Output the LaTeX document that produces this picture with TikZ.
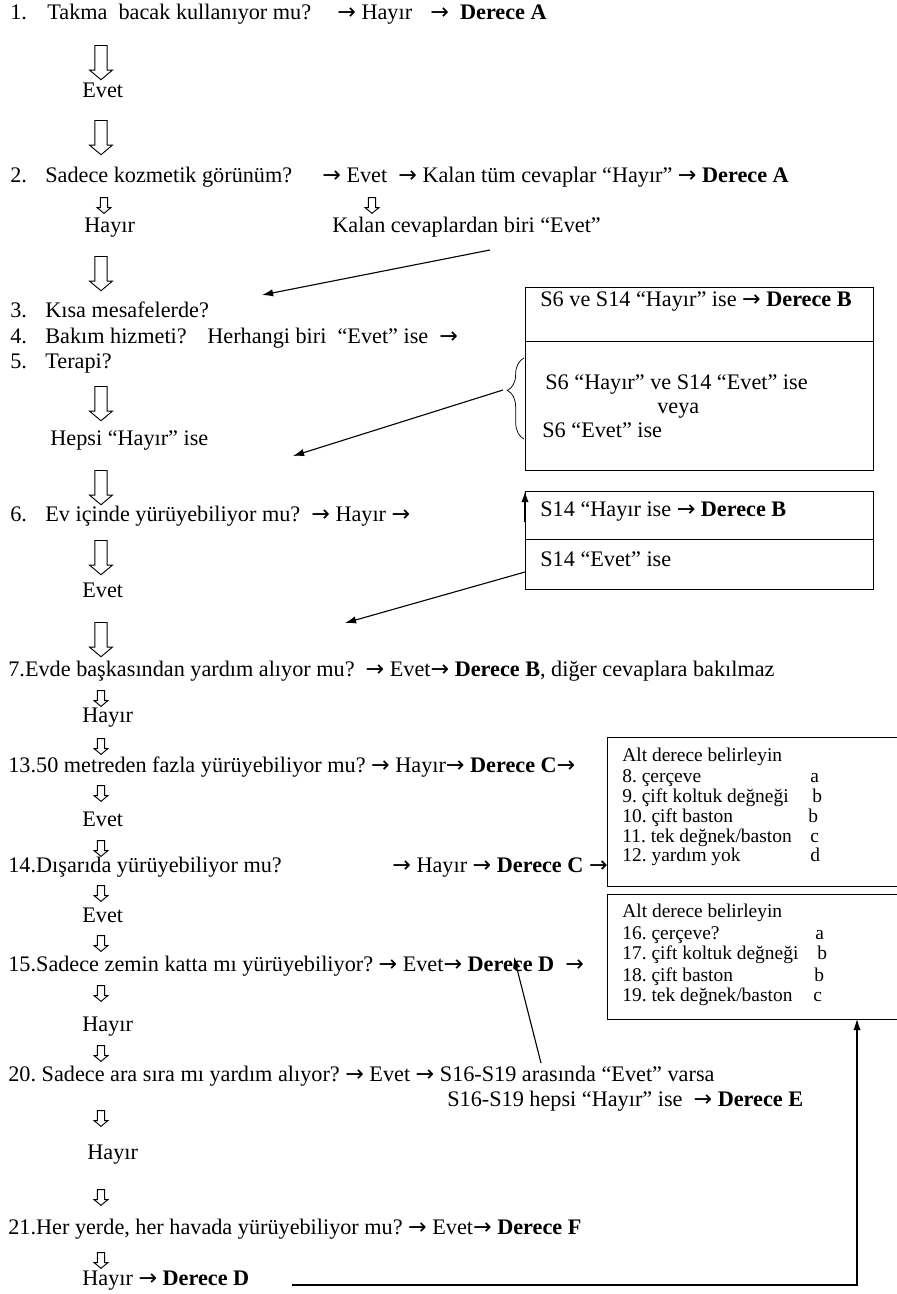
\documentclass[tikz,border=0pt]{standalone}
\usepackage{fontspec}
\setmainfont{Liberation Serif}
\newfontfamily\arrowfont{DejaVu Sans}
\newcommand{\toarrow}{{\arrowfont →}}
\usetikzlibrary{arrows.meta,shapes.arrows,decorations.pathreplacing}

\begin{document}
\frenchspacing
\begin{tikzpicture}[x=0.54pt,y=-0.54pt]
            \tikzstyle{every node}=[font=\fontsize{12}{14}\selectfont, inner sep=0pt]
            \tikzstyle{txt}=[anchor=mid west]
            \tikzstyle{boxtxt}=[anchor=mid west, font=\fontsize{10.5}{12}\selectfont]
            \tikzstyle{bigdown}=[single arrow, draw, shape border rotate=270, inner sep=3.1pt, single arrow head extend=2.8pt, single arrow tip angle=100, minimum height=18.5pt, line width=0.5pt]
            \tikzstyle{smalldown}=[single arrow, draw, shape border rotate=270, inner sep=1.7pt, single arrow head extend=1.8pt, single arrow tip angle=100, minimum height=8.5pt, line width=0.5pt]
            \tikzstyle{pointer}=[-{Latex[length=6pt,width=4pt]}, line width=0.6pt]

            \useasboundingbox (0,0) rectangle (896,1294);

            \node[txt] (num1) at (10,15) {1.};
            \node[txt] (q1) at (47,15) {Takma\ \ bacak kullanıyor mu?};
            \node[txt] (r1) at (337,15) {\toarrow\ Hayır};
            \node[txt] (dA1) at (430,15) {\toarrow\ \ \textbf{Derece A}};
            \node[bigdown] (d1) at (101,60) {};
            \node[txt] (evet1) at (82,93) {Evet};
            \node[bigdown] (d2) at (101,135) {};

            \node[txt] (num2) at (10,178) {2.};
            \node[txt] (q2) at (45,178) {Sadece kozmetik görünüm?};
            \node[txt] (r2) at (322,178) {\toarrow\ Evet\ \ \toarrow\ Kalan tüm cevaplar “Hayır” \toarrow\ \textbf{Derece A}};
            \node[smalldown] (d3) at (104,204) {};
            \node[txt] (hayir2) at (84,228) {Hayır};
            \node[smalldown] (d4) at (372,204) {};
            \node[txt] (kalan) at (332,228) {Kalan cevaplardan biri “Evet”};
            \node[bigdown] (d5) at (101,271) {};

            \coordinate (kalanfoot) at (490,250);
            \coordinate (toq3) at (262,295);
            \draw[pointer] (kalanfoot) -- (toq3);

            \node[txt] (num3) at (10,313) {3.};
            \node[txt] (q3) at (45,313) {Kısa mesafelerde?};
            \node[txt] (num4) at (10,339) {4.};
            \node[txt] (q4) at (45,339) {Bakım hizmeti?};
            \node[txt] (r4) at (207,339) {Herhangi biri\ \ “Evet” ise\ \ \toarrow};
            \node[txt] (num5) at (10,364) {5.};
            \node[txt] (q5) at (45,364) {Terapi?};
            \node[bigdown] (d6) at (101,401) {};
            \node[txt] (hepsi) at (50,441) {Hepsi “Hayır” ise};
            \node[bigdown] (d7) at (101,485) {};

            \node[txt] (num6) at (10,517) {6.};
            \node[txt] (q6) at (45,517) {Ev içinde yürüyebiliyor mu?\ \ \toarrow\ Hayır \toarrow};
            \node[bigdown] (d8) at (101,555) {};
            \node[txt] (evet6) at (82,593) {Evet};
            \node[bigdown] (d9) at (101,637) {};

            \draw (525,287) rectangle (873,470);
            \draw (525,341) -- (873,341);
            \node[txt] (s6s14) at (540,302) {S6 ve S14 “Hayır” ise \toarrow\ \textbf{Derece B}};
            \node[txt] (s6h) at (545,385) {S6 “Hayır” ve S14 “Evet” ise};
            \node[txt] (veya) at (657,409) {veya};
            \node[txt] (s6e) at (542,433) {S6 “Evet” ise};
            \draw[decorate, decoration={brace, amplitude=9pt, aspect=0.6}] (524,439) -- (524,358);
            \coordinate (bracetip) at (503,390);
            \coordinate (tohepsi) at (293,456);
            \draw[pointer] (bracetip) -- (tohepsi);

            \draw (525,491) rectangle (873,589);
            \draw (525,539) -- (873,539);
            \node[txt] (s14h) at (540,512) {S14 “Hayır ise \toarrow\ \textbf{Derece B}};
            \node[txt] (s14e) at (540,562) {S14 “Evet” ise};
            \coordinate (edgelow) at (525,522);
            \coordinate (edgetop) at (525,491);
            \draw[pointer, line width=1pt] (edgelow) -- (edgetop);
            \coordinate (s14foot) at (525,572);
            \coordinate (toevet6) at (345,623);
            \draw[pointer] (s14foot) -- (toevet6);

            \node[txt] (q7) at (8,672) {7.Evde başkasından yardım alıyor mu?\ \ \toarrow\ Evet\toarrow\ \textbf{Derece B}, diğer cevaplara bakılmaz};
            \node[smalldown] (d10) at (101,697) {};
            \node[txt] (hayir7) at (82,718) {Hayır};
            \node[smalldown] (d11) at (101,745) {};
            \node[txt] (q13) at (8,768) {13.50 metreden fazla yürüyebiliyor mu? \toarrow\ Hayır\toarrow\ \textbf{Derece C}\toarrow};
            \node[smalldown] (d12) at (101,792) {};
            \node[txt] (evet13) at (82,822) {Evet};
            \node[smalldown] (d13) at (101,847) {};
            \node[txt] (q14) at (8,868) {14.Dışarıda yürüyebiliyor mu?};
            \node[txt] (r14) at (392,868) {\toarrow\ Hayır \toarrow\ \textbf{Derece C} \toarrow};
            \node[smalldown] (d14) at (101,892) {};
            \node[txt] (evet14) at (82,918) {Evet};
            \node[smalldown] (d15) at (101,942) {};
            \node[txt] (q15) at (8,967) {15.Sadece zemin katta mı yürüyebiliyor? \toarrow\ Evet\toarrow\ \textbf{Derece D}\ \ \toarrow};
            \node[smalldown] (d16) at (101,992) {};
            \node[txt] (hayir15) at (82,1027) {Hayır};
            \node[smalldown] (d17) at (101,1052) {};
            \node[txt] (q20) at (8,1077) {20. Sadece ara sıra mı yardım alıyor? \toarrow\ Evet \toarrow\ S16-S19 arasında “Evet” varsa};
            \node[txt] (r20) at (447,1102) {S16-S19 hepsi “Hayır” ise\ \ \toarrow\ \textbf{Derece E}};
            \node[smalldown] (d18) at (101,1117) {};
            \node[txt] (hayir20) at (87,1155) {Hayır};
            \node[smalldown] (d19) at (101,1196) {};
            \node[txt] (q21) at (8,1230) {21.Her yerde, her havada yürüyebiliyor mu? \toarrow\ Evet\toarrow\ \textbf{Derece F}};
            \node[smalldown] (d20) at (101,1259) {};
            \node[txt] (hayir21) at (82,1281) {Hayır \toarrow\ \textbf{Derece D}};

            \draw (607,737) rectangle (898,886);
            \node[boxtxt] (altA) at (622,757) {Alt derece belirleyin};
            \foreach \y/\item/\gx/\grade in {778/{8. çerçeve}/810/a, 798/{9. çift koltuk değneği}/812/b, 818/{10. çift baston}/808/b, 838/{11. tek değnek/baston}/810/c, 857/{12. yardım yok}/810/d}{
                \node[boxtxt] (itemA\y) at (622,\y) {\item};
                \node[boxtxt] (gradeA\y) at (\gx,\y) {\grade};
            }

            \draw (607,894) rectangle (898,1019);
            \node[boxtxt] (altB) at (622,913) {Alt derece belirleyin};
            \foreach \y/\item/\gx/\grade in {935/{16. çerçeve?}/815/a, 955/{17. çift koltuk değneği}/817/b, 977/{18. çift baston}/814/b, 997/{19. tek değnek/baston}/813/c}{
                \node[boxtxt] (itemB\y) at (622,\y) {\item};
                \node[boxtxt] (gradeB\y) at (\gx,\y) {\grade};
            }

            \coordinate (varsafoot) at (541,1063);
            \coordinate (todereceD) at (514,957);
            \draw[pointer] (varsafoot) -- (todereceD);

            \coordinate (linestart) at (292,1285);
            \coordinate (linecorner) at (857,1285);
            \coordinate (boxBfoot) at (857,1019);
            \draw[pointer] (linestart) -- (linecorner) -- (boxBfoot);

          \end{tikzpicture}
\end{document}
